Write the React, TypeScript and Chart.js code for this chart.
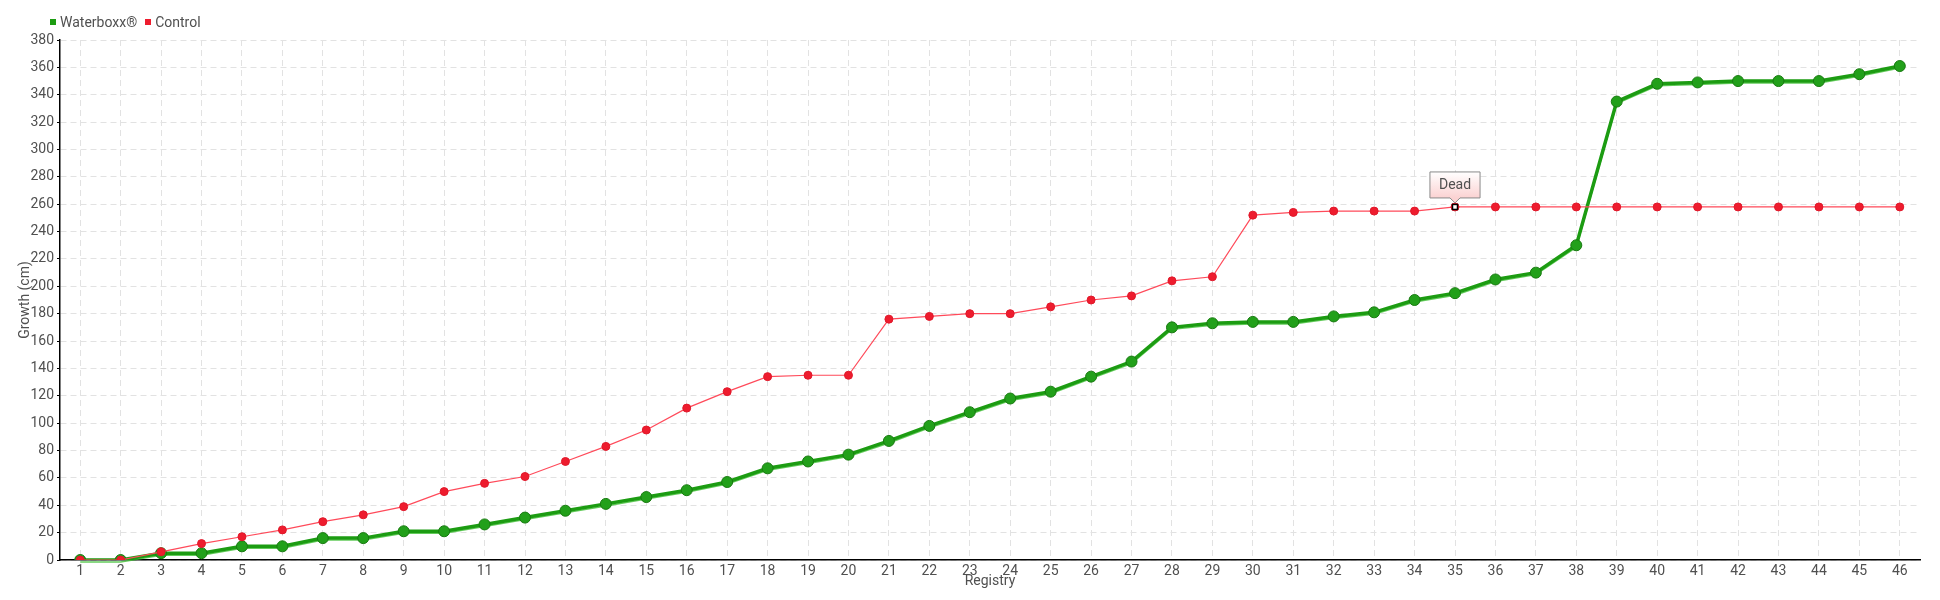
import React, { useEffect, useRef } from "react";
import { Chart, registerables } from "chart.js";

Chart.register(...registerables);

const registry: string[] = Array.from({ length: 46 }, (_, i) => String(i + 1));

const waterboxx: number[] = [
  0, 0, 5, 5, 10, 10, 16, 16, 21, 21, 26, 31, 36, 41, 46, 51, 57, 67, 72, 77,
  87, 98, 108, 118, 123, 134, 145, 170, 173, 174, 174, 178, 181, 190, 195, 205,
  210, 230, 335, 348, 349, 350, 350, 350, 355, 361,
];

const control: number[] = [
  0, 0, 6, 12, 17, 22, 28, 33, 39, 50, 56, 61, 72, 83, 95, 111, 123, 134, 135,
  135, 176, 178, 180, 180, 185, 190, 193, 204, 207, 252, 254, 255, 255, 255, 258,
  258, 258, 258, 258, 258, 258, 258, 258, 258, 258, 258,
];

const seriesNames: string[] = ["Waterboxx®", "Control"];
const seriesColors: string[] = ["#1c9c12", "#ee1c2e"];

const annotationIndex = 34; // registry 35
const annotationText = "Dead";

const FONT = "Roboto, 'Liberation Sans', sans-serif";
const TEXT = "#505050";

const deadPlugin = {
  id: "deadMarker",
  afterDatasetsDraw(chart: any) {
    const { ctx, scales } = chart;
    const x = scales.x.getPixelForValue(annotationIndex);
    const y = scales.y.getPixelForValue(control[annotationIndex]);
    ctx.save();
    ctx.fillStyle = "#ffffff";
    ctx.strokeStyle = "#000000";
    ctx.lineWidth = 1.5;
    ctx.fillRect(x - 2.5, y - 2.5, 5, 5);
    ctx.strokeRect(x - 2.5, y - 2.5, 5, 5);
    ctx.font = `14px ${FONT}`;
    const tw = ctx.measureText(annotationText).width;
    const w = Math.max(50, tw + 18);
    const h = 26;
    const bx = x - w / 2;
    const by = y - 35;
    const grad = ctx.createLinearGradient(0, by, 0, by + h);
    grad.addColorStop(0, "#ffffff");
    grad.addColorStop(1, "#fbd2d2");
    ctx.beginPath();
    ctx.moveTo(bx, by);
    ctx.lineTo(bx + w, by);
    ctx.lineTo(bx + w, by + h);
    ctx.lineTo(x + 5, by + h);
    ctx.lineTo(x, by + h + 5);
    ctx.lineTo(x - 5, by + h);
    ctx.lineTo(bx, by + h);
    ctx.closePath();
    ctx.fillStyle = grad;
    ctx.fill();
    ctx.strokeStyle = "#8a8a8a";
    ctx.lineWidth = 1;
    ctx.stroke();
    ctx.fillStyle = TEXT;
    ctx.textAlign = "center";
    ctx.textBaseline = "middle";
    ctx.fillText(annotationText, x, by + h / 2 + 1);
    ctx.restore();
  },
};

const shadowPlugin = {
  id: "greenShadow",
  beforeDatasetsDraw(chart: any) {
    const meta = chart.getDatasetMeta(0);
    const { ctx } = chart;
    ctx.save();
    ctx.strokeStyle = "rgba(60,190,50,0.8)";
    ctx.lineWidth = 1.5;
    ctx.beginPath();
    meta.data.forEach((p: any, i: number) => {
      if (i === 0) ctx.moveTo(p.x, p.y + 2);
      else ctx.lineTo(p.x, p.y + 2);
    });
    ctx.stroke();
    ctx.restore();
  },
};

export default function App() {
  const ref = useRef<HTMLCanvasElement | null>(null);

  useEffect(() => {
    if (!ref.current) return;
    const chart = new Chart(ref.current, {
      type: "line",
      data: {
        labels: registry,
        datasets: [
          {
            label: seriesNames[0],
            data: waterboxx,
            borderColor: seriesColors[0],
            borderWidth: 3.5,
            pointRadius: 5.5,
            pointBackgroundColor: "#22a01a",
            pointBorderColor: "#187a10",
            pointBorderWidth: 1,
            tension: 0,
            order: 2,
          },
          {
            label: seriesNames[1],
            data: control,
            borderColor: "#ff4a5a",
            borderWidth: 1.2,
            pointRadius: 4,
            pointBackgroundColor: seriesColors[1],
            pointBorderColor: "#e0182a",
            pointBorderWidth: 1,
            tension: 0,
            order: 1,
          },
        ],
      },
      options: {
        responsive: false,
        animation: false,
        layout: { padding: { top: 40, right: 20, left: 0, bottom: 0 } },
        plugins: {
          legend: { display: false },
          tooltip: { enabled: false },
        },
        scales: {
          x: {
            offset: true,
            grid: {
              offset: false,
              color: "#e2e2e2",
              lineWidth: 1,
              drawTicks: false,
            },
            border: { display: true, color: "#000000", width: 1.5, dash: [6, 4] },
            ticks: {
              color: TEXT,
              font: { family: FONT, size: 14 },
              padding: 3,
              maxRotation: 0,
              autoSkip: false,
            },
            title: {
              display: true,
              text: "Registry",
              color: TEXT,
              font: { family: FONT, size: 14 },
              padding: { top: 0, bottom: 10 },
            },
            afterFit: (s: any) => {
              s.height = 40;
            },
          },
          y: {
            min: 0,
            max: 380,
            grid: {
              color: "#e2e2e2",
              lineWidth: 1,
              tickLength: 3,
              tickColor: "#000000",
              tickBorderDash: [],
            },
            border: { display: true, color: "#000000", width: 1.5, dash: [6, 4] },
            ticks: {
              stepSize: 20,
              color: TEXT,
              font: { family: FONT, size: 14 },
              padding: 3,
            },
            title: {
              display: true,
              text: "Growth (cm)",
              color: TEXT,
              font: { family: FONT, size: 14 },
              padding: { top: 17, bottom: 0 },
            },
            afterFit: (s: any) => {
              s.width = 60;
            },
          },
        },
      },
      plugins: [shadowPlugin, deadPlugin],
    });
    return () => chart.destroy();
  }, []);

  const legendItem = (name: string, color: string) => (
    <span style={{ display: "inline-flex", alignItems: "center", marginRight: 8 }}>
      <span style={{ width: 6, height: 6, background: color, display: "inline-block", marginRight: 4 }} />
      <span>{name}</span>
    </span>
  );

  return (
    <div style={{ position: "absolute", left: 0, top: 0, width: 1940, height: 600, background: "#ffffff" }}>
      <canvas ref={ref} width={1940} height={600} style={{ display: "block" }} />
      <div
        style={{
          position: "absolute",
          left: 50,
          top: 13,
          fontFamily: FONT,
          fontSize: 14,
          color: TEXT,
          lineHeight: "18px",
          display: "flex",
        }}
      >
        {legendItem(seriesNames[0], seriesColors[0])}
        {legendItem(seriesNames[1], seriesColors[1])}
      </div>
    </div>
  );
}
